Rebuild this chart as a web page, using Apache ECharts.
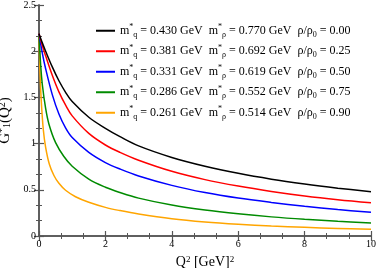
<!DOCTYPE html>
<html>
<head>
<meta charset="utf-8">
<script src="https://cdn.jsdelivr.net/npm/echarts@6/dist/echarts.min.js"></script>
<style>html,body{margin:0;padding:0;background:#fff}#c{width:376px;height:268px}</style>
</head>
<body>
<div id="c"></div>
<script>
var xTicks = [0, 2, 4, 6, 8, 10];
var yTicks = [0, 0.5, 1, 1.5, 2, 2.5];

var q2Black = [0, 0.1, 0.2, 0.4, 0.6, 0.81, 1.0, 1.5, 2.0, 2.44, 3, 4, 5, 6, 7, 8, 9, 10];
var gBlack  = [2.19, 2.09, 2.0, 1.83, 1.68, 1.55, 1.455, 1.285, 1.165, 1.075, 0.975, 0.85, 0.755, 0.678, 0.615, 0.563, 0.518, 0.478];

var q2Red = [0, 0.1, 0.2, 0.4, 0.6, 0.81, 1.0, 1.5, 2.0, 2.44, 3, 4, 5, 6, 7, 8, 9, 10];
var gRed  = [2.19, 2.06, 1.95, 1.74, 1.56, 1.41, 1.30, 1.11, 0.985, 0.905, 0.82, 0.70, 0.61, 0.54, 0.482, 0.433, 0.393, 0.36];

var q2Blue = [0, 0.1, 0.2, 0.4, 0.6, 0.8, 1.0, 1.5, 2.0, 2.44, 3, 4, 5, 6, 7, 8, 9, 10];
var gBlue  = [2.19, 1.98, 1.81, 1.53, 1.32, 1.17, 1.065, 0.905, 0.795, 0.725, 0.65, 0.548, 0.47, 0.41, 0.363, 0.322, 0.287, 0.256];

var q2Green = [0, 0.05, 0.1, 0.2, 0.3, 0.5, 0.75, 1.0, 1.5, 2.0, 2.44, 3, 4, 5, 6, 7, 8, 9, 10];
var gGreen  = [2.19, 1.85, 1.64, 1.38, 1.21, 1.01, 0.86, 0.755, 0.615, 0.527, 0.47, 0.41, 0.335, 0.281, 0.24, 0.207, 0.181, 0.16, 0.142];

var q2Orange = [0, 0.03, 0.07, 0.13, 0.2, 0.31, 0.45, 0.6, 0.8, 1.1, 1.5, 2.0, 2.44, 3, 4, 5, 6, 7, 8, 9, 10];
var gOrange  = [2.19, 1.76, 1.45, 1.15, 0.96, 0.78, 0.655, 0.57, 0.495, 0.425, 0.365, 0.31, 0.275, 0.238, 0.187, 0.152, 0.127, 0.108, 0.094, 0.082, 0.072];

var mq   = ['0.430', '0.381', '0.331', '0.286', '0.261'];
var mrho = ['0.770', '0.692', '0.619', '0.552', '0.514'];
var rho  = ['0.00', '0.25', '0.50', '0.75', '0.90'];
var colors = ['#000000', '#ff0000', '#0000ff', '#008b00', '#ffa500'];

function pairs(xs, ys) { return xs.map(function (x, i) { return [x, ys[i]]; }); }
var allData = [pairs(q2Black, gBlack), pairs(q2Red, gRed), pairs(q2Blue, gBlue), pairs(q2Green, gGreen), pairs(q2Orange, gOrange)];
var names = rho.map(function (r, i) { return 's' + i; });

var serif = 'Liberation Serif';
var chart = echarts.init(document.getElementById('c'), null, {renderer: 'canvas'});

var axisCommon = {
  type: 'value',
  axisLine: {show: true, lineStyle: {color: '#555', width: 1.5}},
  axisTick: {show: true, inside: true, length: 5, lineStyle: {color: '#555', width: 1.2}},
  minorTick: {show: true, splitNumber: 3, length: 3, lineStyle: {color: '#555', width: 1}},
  splitLine: {show: false},
  minorSplitLine: {show: false}
};

var series = allData.map(function (d, i) {
  return {
    name: names[i], type: 'line', data: d, smooth: 0.35, symbol: 'none',
    lineStyle: {color: colors[i], width: 1.5}, itemStyle: {color: colors[i]},
    xAxisIndex: 0, yAxisIndex: 0, z: 5 - i
  };
});

chart.setOption({
  animation: false,
  backgroundColor: '#fff',
  grid: {left: 39, right: 5, top: 5, bottom: 32, containLabel: false, outerBoundsMode: 'none'},
  legend: {
    show: true, orient: 'vertical', left: 91, top: 18, itemGap: 5,
    itemWidth: 19, itemHeight: 2, icon: 'rect',
    data: names,
    formatter: function (n) {
      var i = names.indexOf(n);
      return 'm{sup|*}{sub|q} = ' + mq[i] + ' GeV  m{sup|*}{sub|ρ} = ' + mrho[i] + ' GeV  ρ/ρ{sub|0} = ' + rho[i];
    },
    textStyle: {
      fontFamily: serif, fontSize: 12, color: '#000', lineHeight: 15.5,
      rich: {
        sup: {fontFamily: serif, fontSize: 8, color: '#000', verticalAlign: 'top', lineHeight: 8},
        sub: {fontFamily: serif, fontSize: 8, color: '#000', verticalAlign: 'bottom', lineHeight: 8}
      }
    }
  },
  xAxis: [
    Object.assign({}, axisCommon, {
      min: 0, max: 10, interval: 2, position: 'bottom',
      axisLabel: {show: true, fontFamily: serif, fontSize: 10, color: '#000', margin: 3,
        formatter: function (v) { return xTicks.indexOf(v) >= 0 ? String(v) : ''; }},
      name: 'Q{sup|2} [GeV]{sup|2}', nameLocation: 'middle', nameGap: 19,
      nameTextStyle: {fontFamily: serif, fontSize: 14, color: '#000',
        rich: {sup: {fontFamily: serif, fontSize: 9, color: '#000', verticalAlign: 'top', lineHeight: 9}}}
    }),
    Object.assign({}, axisCommon, {
      min: 0, max: 10, interval: 2, position: 'top', axisLabel: {show: false}
    })
  ],
  yAxis: [
    Object.assign({}, axisCommon, {
      min: 0, max: 2.5, interval: 0.5, position: 'left',
      axisLabel: {show: true, fontFamily: serif, fontSize: 10, color: '#000', margin: 3,
        formatter: function (v) { return yTicks.indexOf(v) >= 0 ? String(v) : ''; }},
      name: 'G{sup|*}{sub|1}(Q{sup|2})', nameLocation: 'middle', nameGap: 19, nameRotate: 90,
      nameTextStyle: {fontFamily: serif, fontSize: 15, color: '#000',
        rich: {
          sup: {fontFamily: serif, fontSize: 10, color: '#000', verticalAlign: 'top', lineHeight: 10},
          sub: {fontFamily: serif, fontSize: 10, color: '#000', verticalAlign: 'bottom', lineHeight: 10}
        }}
    }),
    Object.assign({}, axisCommon, {
      min: 0, max: 2.5, interval: 0.5, position: 'right', axisLabel: {show: false}
    })
  ],
  series: series
});
</script>
</body>
</html>
